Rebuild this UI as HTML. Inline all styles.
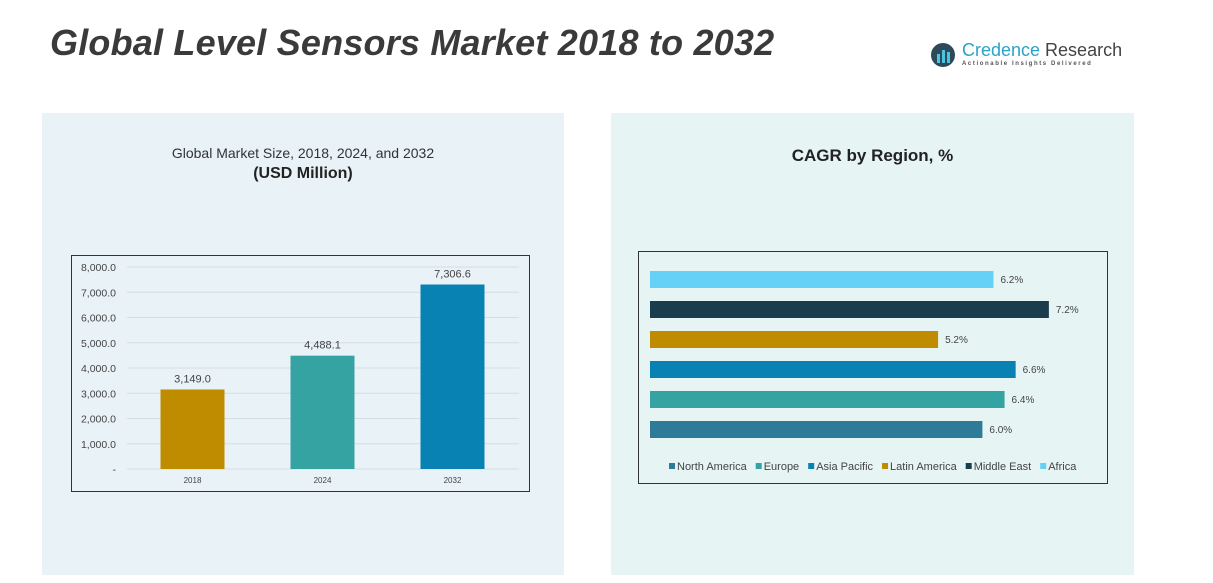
<!DOCTYPE html>
<html><head><meta charset="utf-8"><style>
body{margin:0;width:1213px;height:583px;background:#fff;position:relative;overflow:hidden;font-family:"Liberation Sans",sans-serif}
.abs{position:absolute}
</style></head><body>
<div class="abs" style="left:50px;top:22px;font-size:36px;font-weight:bold;font-style:italic;color:#3a3a3a;letter-spacing:0.2px;white-space:nowrap">Global Level Sensors Market 2018 to 2032</div>
<div class="abs" style="left:930px;top:40px;width:190px;height:30px;white-space:nowrap">
<svg width="30" height="30" style="position:absolute;left:0;top:2px"><circle cx="13" cy="13" r="12" fill="#2d4a5a"/><rect x="7" y="12" width="3" height="9" fill="#4cc3e0"/><rect x="12" y="8" width="3" height="13" fill="#4cc3e0"/><rect x="17" y="10" width="3" height="11" fill="#4cc3e0"/></svg>
<div class="abs" style="left:32px;top:0;font-size:18px;color:#444;white-space:nowrap"><span style="color:#2aa3c7">Credence</span> Research</div>
<div class="abs" style="left:32px;top:21px;font-size:6px;letter-spacing:1.6px;color:#555;font-weight:bold;white-space:nowrap">Actionable Insights Delivered</div>
</div>
<div class="abs" style="left:42px;top:113px;width:522px;height:462px;background:#e9f2f7"></div>
<div class="abs" style="left:611px;top:113px;width:523px;height:462px;background:#e6f4f4"></div>
<div class="abs" style="left:42px;top:145px;width:522px;text-align:center;font-size:14px;color:#333">Global Market Size, 2018, 2024, and 2032</div>
<div class="abs" style="left:42px;top:165px;width:522px;text-align:center;font-size:16px;font-weight:bold;color:#222">(USD Million)</div>
<div class="abs" style="left:611px;top:146px;width:523px;text-align:center;font-size:17px;font-weight:bold;color:#222">CAGR by Region, %</div>
<svg class="abs" style="left:0;top:0" width="1213" height="583" id="svg"></svg>
<script>
const years=["2018","2024","2032"];
const sizes=[3149.0,4488.1,7306.6];
const sizeLabels=["3,149.0","4,488.1","7,306.6"];
const yTicks=[0,1000,2000,3000,4000,5000,6000,7000,8000];
const yTickLabels=["-","1,000.0","2,000.0","3,000.0","4,000.0","5,000.0","6,000.0","7,000.0","8,000.0"];
const regions=["North America","Europe","Asia Pacific","Latin America","Middle East","Africa"];
const cagr=[6.0,6.4,6.6,5.2,7.2,6.2];
const regionColors=["#2e7a99","#36a3a3","#0881b3","#bf8c00","#1a3d4d","#66d1f7"];
const yearColors=["#bf8c00","#36a3a3","#0881b3"];
const NS="http://www.w3.org/2000/svg";
const svg=document.getElementById('svg');
function mk(t,a,txt){const e=document.createElementNS(NS,t);for(const k in a)e.setAttribute(k,a[k]);if(txt!=null)e.textContent=txt;svg.appendChild(e);return e;}
const yS=v=>469-v*(202/8000);
const xC=i=>192.5+i*130;
let f=mk('rect',{x:71.5,y:255.5,width:458,height:236,fill:'none',stroke:'#333','stroke-width':1});

yTicks.forEach((t,i)=>{
 let g=mk('line',{x1:127,x2:519,y1:yS(t),y2:yS(t),stroke:'#d6dde2','stroke-width':1});
 
 let l=mk('text',{x:116,y:yS(t)+4,'text-anchor':'end','font-size':10.5,fill:'#444'},yTickLabels[i]);
 
});
years.forEach((y,i)=>{
 let b=mk('rect',{x:xC(i)-32,y:yS(sizes[i]),width:64,height:yS(0)-yS(sizes[i]),fill:yearColors[i]});
 
 let v=mk('text',{x:xC(i),y:yS(sizes[i])-7,'text-anchor':'middle','font-size':11,fill:'#444'},sizeLabels[i]);
 
 let xl=mk('text',{x:xC(i),y:483,'text-anchor':'middle','font-size':8,fill:'#444'},y);
 
});
let f2=mk('rect',{x:638.5,y:251.5,width:469,height:232,fill:'none',stroke:'#333','stroke-width':1});

const xS=v=>650+v*55.4;
const yR=i=>421-i*30;
regions.forEach((r,i)=>{
 let b=mk('rect',{x:650,y:yR(i),width:xS(cagr[i])-650,height:17,fill:regionColors[i]});
 
 let v=mk('text',{x:xS(cagr[i])+7,y:yR(i)+12,'font-size':10,fill:'#444'},cagr[i].toFixed(1)+'%');
 
});
let lx=669;
regions.forEach((r,i)=>{
 let s=mk('rect',{x:lx,y:463,width:6,height:6,fill:regionColors[i]});
 
 let t=mk('text',{x:lx+8,y:470,'font-size':11,fill:'#444'},r);
 
 lx+=8+t.getComputedTextLength()+9;
});
</script>
</body></html>
